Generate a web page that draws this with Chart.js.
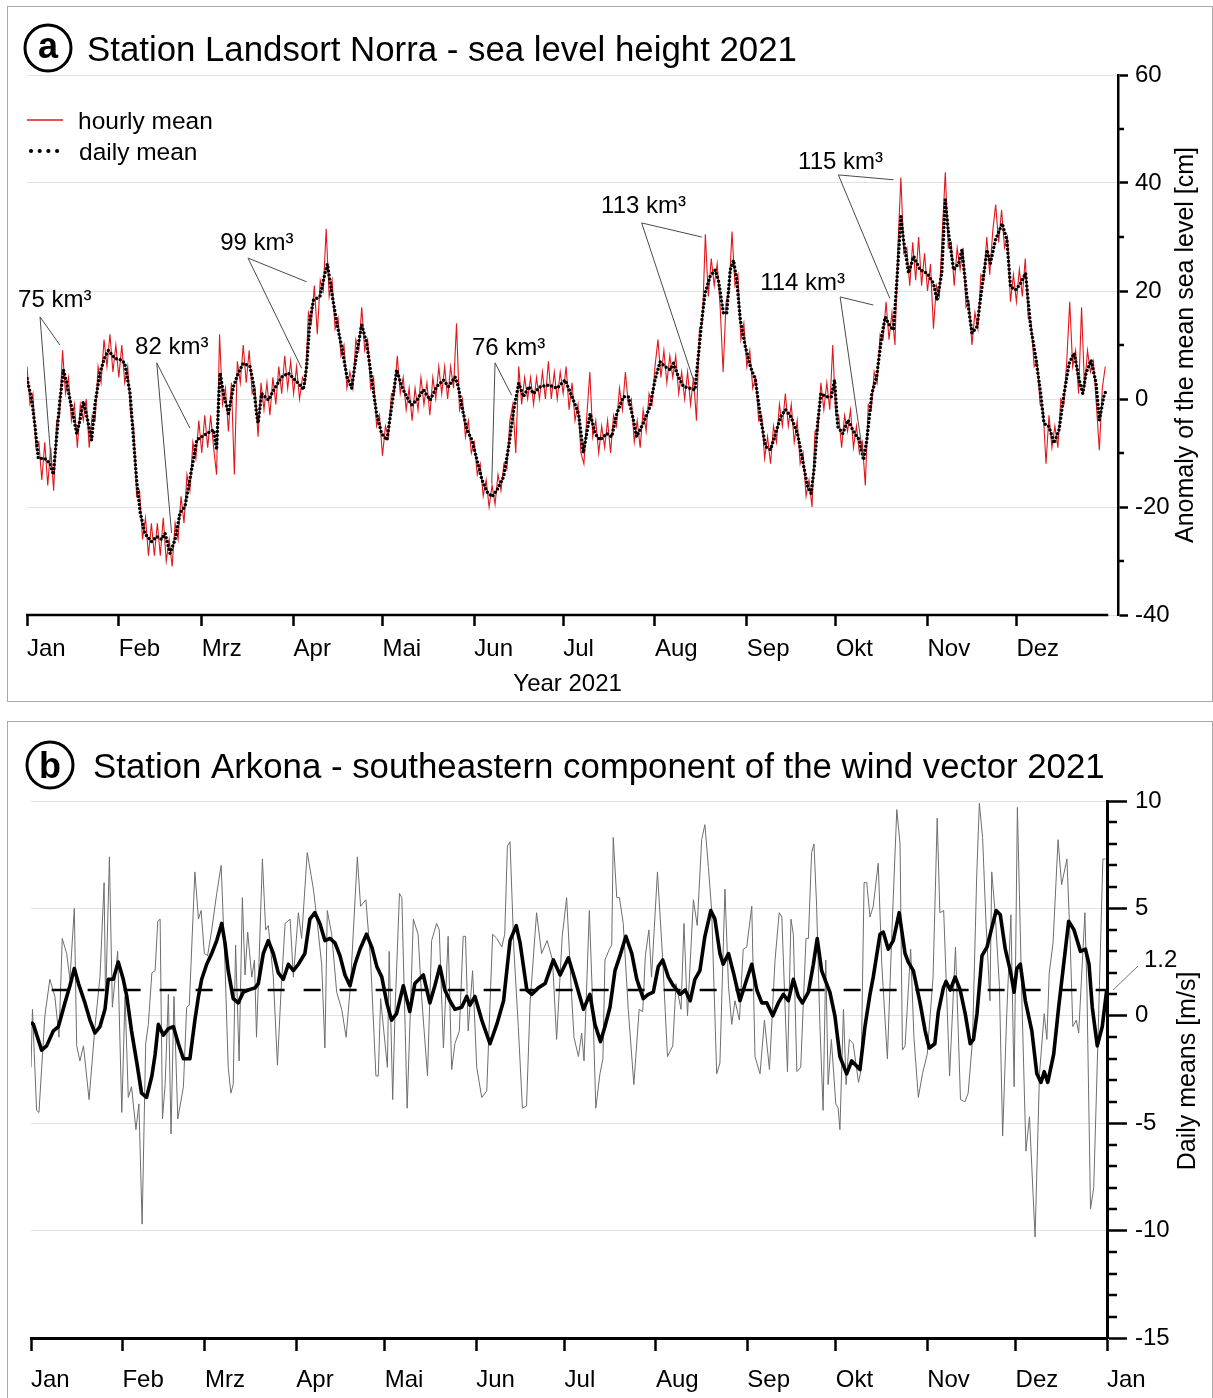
<!DOCTYPE html>
<html>
<head>
<meta charset="utf-8">
<script src="https://cdn.jsdelivr.net/npm/chart.js@4.4.1/dist/chart.umd.min.js"></script>
<style>
  html, body { margin: 0; padding: 0; background: #fff; }
  body { width: 1213px; height: 1398px; position: relative; overflow: hidden; }
  .frame { position: absolute; border: 1.5px solid #a9a9a9; box-sizing: border-box; }
  #frameA { left: 7px; top: 6px; width: 1206px; height: 696px; }
  #frameB { left: 7px; top: 721px; width: 1206px; height: 720px; }
  canvas { position: absolute; left: 0; }
  #seaLevel { top: 0; width: 1213px; height: 712px; }
  #wind { top: 712px; width: 1213px; height: 686px; }
</style>
</head>
<body>
<div class="frame" id="frameA"></div>
<div class="frame" id="frameB"></div>
<canvas id="seaLevel" width="1213" height="712"></canvas>
<canvas id="wind" width="1213" height="686"></canvas>
<script>
// ---------- shared ----------
const MONTHS = ['Jan', 'Feb', 'Mrz', 'Apr', 'Mai', 'Jun', 'Jul', 'Aug', 'Sep', 'Okt', 'Nov', 'Dez'];
const MONTH_START = [0, 31, 59, 90, 120, 151, 181, 212, 243, 273, 304, 334];
const YEAR_DAYS = 365;

// ---------- (a) Landsort Norra sea level, cm ----------
const meanDay = [0,1.6,2.7,3.8,6,7.8,8.9,10,11,12.3,
  13.4,15,16.8,17.9,19,20,21.8,23,24.6,26.3,
  27.5,29.7,32,33,34.8,35.9,37,38.2,39.8,42,
  43.8,45.5,46.6,48.3,50,51.7,53.3,55.6,57.3,59,
  60.7,63,64,64.8,65.2,66.3,68,69.7,71.3,73,
  75.3,76.4,77.5,78,79.2,81.5,83,86,88.2,90.5,
  92.7,93.3,94.4,95.5,96.7,98.9,100.6,101.4,102.9,104.6,
  106.2,108,109.6,111.3,113,114.7,116.4,118,119.7,121.5,
  123.1,124.8,126.5,128.2,129.9,131.6,133.8,136.1,138.3,140.6,
  142.3,144.5,145.6,146.8,148.5,150.2,151.9,153.6,155.3,157,
  158.6,160.9,162.6,164.3,166,167.6,169.4,171,173.3,176.1,
  178.9,181.7,184,186.2,187.8,190.1,191.8,193.4,195.7,197.4,
  199.1,201.3,203,204.7,205.8,208,210.3,212,213.7,215.4,
  217.1,218.2,219.9,221.6,223.8,225.5,226.6,227.8,228.9,230.6,
  232.3,233.4,235.1,236.2,237.4,238.5,239.6,240.8,242.5,244.2,
  245.9,247.6,249.3,251,252.7,254.4,256.1,257.9,260.1,261.8,
  263.5,264.7,265.8,266.9,268,269.8,271.5,272.6,273.7,275.4,
  277.1,279.4,281,282.4,283.5,285.2,286.8,288.5,289.7,291.4,
  292.5,293.6,295,295.9,297.6,299.3,301.5,303.8,306,307.2,
  308.8,310,311.1,312.8,314.5,315.6,317.3,319,320.7,322.4,
  324.1,325.2,326.9,329.2,330.8,332,333.7,335.4,337.1,338.8,
  340.5,342.2,343.3,345,346.7,348.4,350.1,351.8,353.5,355.2,
  356.4,357.5,359.2,360.9,362,363.7,364.8];
const meanCm = [3.8,-0.2,-5,-11,-11,-12,-14,-7,-0.8,5.4,
  2.9,-1.4,-6.4,-3.9,-0.5,-2.7,-7.6,-0.8,4.8,7.8,
  9,7.5,7.2,6.6,1,-7,-15,-21,-24.9,-26.4,
  -25.5,-26,-24.9,-28.6,-26,-21,-20,-13,-7.6,-7,
  -6.4,-5.7,-9.4,1,4.8,1,-2.7,2.3,4.8,6.6,
  6,2.9,-2.7,-4.5,1,-0.2,1.4,4.1,4.8,3.5,
  2.3,1.7,6,14.6,18.3,19,23.3,25,19.6,14,
  9.7,4.1,2,8.5,13.7,10.3,3.5,-2.7,-6.4,-7.6,
  -1.4,5.4,2.3,0.4,-1.1,-0.2,1.7,-0.2,2.3,3.5,
  2.3,4.1,2.3,-1.4,-5.7,-7.6,-11.3,-15,-17.2,-18.1,
  -16.9,-14.4,-8.8,-2,2.9,0.4,2.3,1,2.3,2.6,
  2,3.5,0.4,-2.7,-10,-2.7,-6.4,-7.6,-6.4,-7,
  -2.7,0.4,0.4,-3.9,-7,-4.5,-1.4,3.5,6.9,6,
  5.4,6.6,4.1,2.3,2,1.7,7.8,14.6,19.6,22.7,
  23.9,22,15.9,15.9,23.9,25.7,22,14.6,9.7,6,
  3.5,-3.3,-8.8,-9.4,-6.4,-3.3,-2,-3.3,-6.4,-11.3,
  -16.2,-17.5,-12.5,-4.5,1,0.4,0.4,3.5,-5.1,-6.4,
  -3.9,-6.4,-7.6,-11.3,-7.6,1,4.1,11.5,15.2,13.4,
  12.8,21.4,33.8,29.4,23.3,26.4,23.9,23.3,21.4,18.3,
  23.3,36.9,30.7,23.9,25.1,27.6,19,12.2,13.4,20.8,
  27.6,25.1,29.4,32.5,29.4,20.8,20.2,21.4,23.3,13.4,
  7.8,1,-4.5,-5.1,-8.2,-5.7,1,6.6,8.5,3.5,
  1,4.8,7.2,2.9,-3.9,1,1.7];
// hourly record, one reading per day of year (day 0 .. 364)
const hourlyCm = [6,-1,1,-9,-8,-15,-8,-16,-9,-17,
  -4,-3,9,1,4,-4,-1,-9,-1,-4,
  0,-9,-3,-4,6,3,11,6,12,5,
  10,4,10,3,6,-3,-5,-18,-17,-26,
  -22,-29,-23,-29,-23,-29,-22,-30,-26,-31,
  -23,-26,-18,-23,-14,-17,-8,-11,-4,-10,
  -3,-9,-3,-9,-14,12,-1,2,-6,3,
  -14,7,3,10,3,9,1,2,-7,3,
  -2,3,-3,4,-1,6,1,8,2,7,
  1,6,0,4,3,16,14,21,12,22,
  20,31.5,19,22,13,15,8,10,2,5,
  2,11,9,17,9,11,2,4,-5,-3,
  -10.5,-5,-7,1,1,8,1,4,-2,2,
  -4,2,-2,4,-1,3,-3,4,0,6,
  1,6,0,6,2,14,-2,0,-7,-4,
  -10,-8,-14,-12,-18,-15,-20,-16,-19.5,-14,
  -17,-12,-13,-4,-1,-10,6,-1,4,0,
  4,-1,4,0,5,0,7,0,5,0,
  5,1,6,-2,3,-4,-1,-10,-12,-3,
  5,-7,-4,-10,-5,-9,-4,-10,-3,-5,
  2,-2,5,-1,0,-8,-4,-9,-2,-6,
  1,-1,6,11,4,9,3,8,4,8,
  1,5,0,5,-1,4,-4,13,14,30.5,
  19,26,21,25,17,5,18,20,31,21,
  23,11,14,6,9,2,4,-4,-3,-11,
  -7,-12,-5,-8,-1,-5,1,-5,-1,-8,
  -4,-12,-10,-18,-15,-20,-6,-6,3,-2,
  3,-2,10,-3,-3,-9,-3,-6,-2,-9,
  -5,-10,-8,-16,-1,-2,5,3,12,11,
  18,11,16,10,28,41,27,28,21,29,
  22,30,21,27,20,25,13,21,19,31,
  42,28,29,21,28,24,28,17,18,10,
  16,13,23,22,30,23,31,36,29,35,
  28,30,18,23,18,24,19,26,15,14,
  6,7,-1,-2,-12,-3,-9,-5,-9,0,
  -1,7,18,6,9,1,17,2,9,5,
  7,-1,-9.5,2,6];
// inflow volumes of the events and the [day, cm] points their leaders mark
const volumeLabels = ['75 km³', '82 km³', '99 km³', '76 km³', '113 km³', '114 km³', '115 km³'];
const volumeMarks = [
  [[8.3, -12.8], [11.1, 10]],
  [[48.8, -24.8], [55, -5.4]],
  [[94.4, 21.7], [92.7, 5.7]],
  [[156.9, -15.6], [163.6, 0.7]],
  [[227.8, 30], [225, 3.5]],
  [[285.7, 17.4], [282.3, -10.7]],
  [[292.5, 40.6], [291.3, 18.6]]
];

// ---------- (b) Arkona wind, m/s ----------
const windDay = [0,0.5,1.9,2.7,4.7,6.4,8.1,9.5,10.6,12.1,
  13.2,14.7,15.5,16.6,17.8,19.7,21.7,23.4,24.8,25.3,
  26.6,27.6,29.4,30.8,31.9,33,34.1,35.6,36.6,37.7,
  38.9,39.8,41,42.1,43,43.8,44.6,45.5,46.6,47.5,
  48.5,49.8,51.7,52.8,53.7,55.6,56.8,57.7,58.8,59.9,
  61.3,63,64.5,65.8,66.9,67.8,68.6,69.4,70.6,71.7,
  72.6,73.5,74.9,75.8,76.5,78.5,79.6,80.5,82.2,83.6,
  84.8,86.2,87.9,89,90.7,91.8,93.7,95.8,96.9,98.6,
  99.7,100.5,102,103.7,105.4,106.9,108.4,110.7,111.8,113.6,
  115.2,117,117.8,118.6,120.1,120.9,121.5,122.7,123.5,125,
  125.8,127.6,129.7,131.3,132.5,134.5,135.9,137.6,138.5,139.9,
  141.5,142.7,143.8,145.3,146.6,147.4,148.3,149.8,151.2,152.9,
  154.6,156.6,158,159.7,160.7,161.6,162.5,163.8,165.3,166.7,
  168.1,169.3,171.5,173.2,175.1,176.9,178.3,180.2,181.7,183.4,
  184.2,185.7,186.8,187.6,189.4,190.8,191.6,193,194,194.7,
  196.2,197,197.5,198.7,199.6,200.9,202.6,204.5,206.3,207.5,
  208.4,209.6,210.5,212.5,214.3,215.9,217.7,218.8,220.5,221.5,
  222.7,224.7,226,227.5,228.6,229.8,230.9,232.6,233.7,235.4,
  236.6,237.7,238.8,240.3,241.6,242.8,244.5,245.6,247.3,248.8,
  250.5,252.4,253.8,254.7,256.6,257.8,258.6,259.8,261.1,262.9,
  263.7,264.8,265.6,266.5,267.6,268.7,269.6,270.4,271.5,273,
  273.8,274.4,275.6,276.5,277.6,278.9,280.7,281.6,282.6,283.5,
  284.6,285.7,287.4,288.6,290.5,292,293.7,294.8,295.6,296.5,
  298.4,299.5,301,302.4,304,306,307.4,308.3,309.6,311.6,
  313.6,315.3,316.8,317.9,319.4,320.8,321.7,322.8,323.9,325.3,
  325.9,327,328.5,329.6,331,332.4,333.5,334.6,336.1,337.5,
  338.7,340.6,342.1,343.7,344.6,345.4,346.7,348.4,349.6,351.4,
  352.5,353.4,354.6,355.4,357.5,358.2,359.4,360.5,362,363.6,
  364.5];
const windDaily = [-2.4,0.3,-4.4,-4.5,0,1.7,0.9,-1,3.6,2.9,
  1.7,5,-1.4,-2.1,-1.4,-3.9,-0.5,1.8,6.2,0.6,
  7.4,0.4,3,-4.5,0.9,-3.8,-3.3,-5.3,-4.1,-9.7,
  -1.3,-0.4,2,2.1,4.4,4.5,-4.8,-3.2,1,-5.5,
  0.9,-4.8,-3.3,0.4,0.5,6.7,4.5,4.9,2.9,2.8,
  4,5.7,7,2.4,-2.4,-3.6,-3.2,3.3,-2.1,5.5,
  1.9,3.9,1.8,2.6,-1,7.3,4,4.2,1.8,-2.3,
  1.1,4.3,4.5,1.8,4.8,3.6,7.6,5.9,4.6,2.4,
  -1.5,4.9,3.8,1.1,0.3,-1,1.5,7.4,5.1,5.4,
  2.6,-2.8,-2.8,0.8,-1.3,-2.4,3,-3.9,0.3,5.7,
  5.5,-4.3,4.5,3.8,0.9,-2.8,3.5,4.3,4,-1.5,
  3.7,-2.5,-1.3,-0.7,3.7,3.7,-0.7,2.1,-2.4,-3.8,
  -3.5,3.8,3.6,3.2,3.8,7.9,8.1,3.1,-0.5,-4.3,
  -4.2,0.6,4.8,2.9,3.5,2.6,-1.1,3.7,5.5,0.9,
  -1,-1.9,-0.8,-2.1,4.9,-0.5,-4.3,-2.7,-2,2.6,
  3.1,3.3,8.3,5.5,5.5,4.3,0.3,-3.2,0.3,0.2,
  2.8,4,1.8,6.7,2.6,-1.9,-1.4,1.5,0.3,4.3,
  0,5.4,4.2,8.2,8.9,6.9,4.9,-2.7,-2.2,5.9,
  1.4,-0.4,0.7,-0.2,3.1,3.2,5.1,-1.9,-2.7,-0.2,
  -2.5,2.6,4.8,4.6,-2.6,4.5,3.8,-2.6,-2.4,3.6,
  3.6,7.6,8,5.1,-0.4,-4.4,2.6,-3.2,-1.1,-4.1,
  -4.3,-5.3,0.3,-3.2,-1.1,-1.3,-3.1,-2.5,6.2,6.2,
  4.6,5.1,7.1,2.4,-2,3.8,9.6,8,-1.6,-1.4,
  3.1,-1,-3.8,-2.7,-1.8,1.8,9.2,4.8,4.9,-2.8,
  3.2,-3.9,-4,-3.6,-1.1,6.5,9.9,8.3,4.5,0.7,
  6.7,4.9,1.4,-5.6,0.1,4.7,-3.3,9.7,0.9,-6.3,
  -4.7,-10.3,-2.7,0.1,-1.1,2,3.4,8.2,6.1,7.3,
  3.5,-0.5,-0.2,-0.8,4.8,1.2,-9,-8,-0.8,7.3,
  7.3];
const smoothDay = [0,0.8,3.6,5.3,7.6,9.3,11.5,13.2,14.7,16.1,
  18.3,20,21.7,23.4,25.1,26.2,27.9,29.6,31.3,32.5,
  34.1,35.8,37.5,39.2,41,42.1,43.2,44.9,46.6,48.3,
  50,51.7,53.9,55.6,56.8,57.9,59.6,61.3,63,64.7,
  65.8,66.9,68.6,70.3,72,73.7,76,77.1,78.8,80.5,
  82.2,83.9,85.6,87.3,89,90.7,92.9,94.6,96.3,98,
  99.7,101.4,103.1,104.8,106.5,108.2,109.9,111.6,113.8,115.6,
  117.3,119,120.7,122.3,124,126.3,128.5,130.2,133.1,135.3,
  137,138.7,140.4,142.1,143.8,146.1,147.8,148.9,150.6,152.9,
  155.7,158,160.3,162.5,164.6,165.9,168.2,169.9,172.1,174.4,
  177.2,179.5,182.3,184.5,187.4,189.6,191.3,193.2,194.7,196.4,
  198.1,199.8,201.8,203.8,205.5,207.7,209.4,211.1,212.8,214.3,
  216.2,217.9,220.2,221.9,223.6,225.2,226.9,228.6,230.6,232,
  233.7,234.8,236.6,238.3,240.5,242.8,244.5,246.2,247.9,249.6,
  251.6,253.5,255.2,256.9,258.6,260.3,261.7,263.7,265.4,266.7,
  268.2,269.3,271,272.7,274.4,276.7,278.4,281.2,282.9,284.6,
  285.7,288,289.1,290.8,292.5,294.5,296.5,297.6,299.3,301.6,
  303.3,304.7,306.6,307.8,309.5,310.4,311.8,313.5,315.2,316.9,
  318.6,319.7,320.9,322.6,324.3,325.2,327.4,328.8,330.5,332.2,
  333.5,334.4,335.6,337.3,339.5,341.2,342.6,343.7,344.9,346.9,
  348.6,350.3,352,353.8,356,357.7,358.9,360,361.7,363.4,
  364.9];
const windSmooth = [-0.3,-0.4,-1.6,-1.4,-0.7,-0.5,0.6,1.4,2.2,1.5,
  0.6,-0.2,-0.8,-0.5,0.3,1.7,1.7,2.5,1.7,0.9,
  -0.7,-2.1,-3.6,-3.8,-2.8,-1.8,-0.4,-0.9,-0.6,-0.5,
  -1.3,-2,-2,-0.2,0.9,1.7,2.4,2.9,3.5,4.3,
  3.4,2.1,0.8,0.6,1.1,1.2,1.3,1.5,2.9,3.5,
  2.9,2,1.7,2.4,2.1,2.4,2.9,4.5,4.8,4.3,
  3.5,3.6,3.4,2.8,1.9,1.4,2.4,3.1,3.8,3.2,
  2.3,1.8,0.6,-0.2,0.1,1.4,0.2,1.5,1.9,0.6,
  1.4,2.3,1.2,0.7,0.3,0.4,0.9,0.5,0.9,-0.2,
  -1.3,-0.4,0.7,3.5,4.2,3.4,1.2,1,1.3,1.5,
  2.6,1.9,2.7,1.7,0.3,1,-0.4,-1.2,-0.5,0.4,
  2.1,2.8,3.7,2.9,1.7,0.8,1,1.1,2.3,2.6,
  1.8,1.4,1,1.2,0.7,1.7,2.1,3.7,4.9,4.5,
  2.9,2.4,2.9,2,0.7,1.7,2.4,1.2,0.6,0.6,
  0,0.6,1,0.7,1.7,0.9,0.6,1.1,2.4,3.6,
  2.1,1.7,1.1,0,-1.9,-2.7,-2.1,-2.5,-0.5,1,
  1.8,3.8,3.9,3.1,3.5,4.8,2.9,2.5,2.1,0.6,
  -0.7,-1.5,-1.3,0.2,1.3,1.6,1.2,1.8,1.2,0.1,
  -1.3,-1.1,0.1,2.8,3.2,3.7,4.9,4.7,3.1,2.1,
  1.1,2.2,2.4,0.7,-0.7,-2.7,-3.1,-2.6,-3.1,-1.8,
  0.4,2.4,4.4,4,3,3.1,2.4,0.4,-1.4,-0.5,
  1.2];
const WIND_MEAN = 1.2;   // annual mean of the daily values
const WIND_MEAN_FROM = 7;

// ---------- drawing helpers ----------
const FONT = "'Liberation Sans', Arial, Helvetica, sans-serif";
Chart.defaults.font.family = FONT;
Chart.defaults.color = '#000';

const zip = (xs, ys) => xs.map((x, i) => ({ x, y: ys[i] }));

function heading(ctx, letter, text, cx, cy, textX) {
  ctx.save();
  ctx.strokeStyle = '#000';
  ctx.lineWidth = 3;
  ctx.beginPath();
  ctx.arc(cx, cy, 23, 0, Math.PI * 2);
  ctx.stroke();
  ctx.fillStyle = '#000';
  ctx.font = 'bold 36px ' + FONT;
  ctx.textAlign = 'center';
  ctx.textBaseline = 'alphabetic';
  ctx.fillText(letter, cx, cy + (letter === 'b' ? 13 : 9.5));
  ctx.font = '34.8px ' + FONT;
  ctx.textAlign = 'left';
  ctx.fillText(text, textX, cy + 12.5);
  ctx.restore();
}

function verticalTitle(ctx, text, cx, cy) {
  ctx.save();
  ctx.translate(cx, cy);
  ctx.rotate(-Math.PI / 2);
  ctx.fillStyle = '#000';
  ctx.font = '25px ' + FONT;
  ctx.textAlign = 'center';
  ctx.textBaseline = 'middle';
  ctx.fillText(text, 0, 0);
  ctx.restore();
}

function minorTicks(ctx, scale, from, to, step, every, len, width) {
  ctx.save();
  ctx.strokeStyle = '#000';
  ctx.lineWidth = width;
  ctx.beginPath();
  for (let v = from; v <= to + 1e-9; v += step) {
    if (Math.abs(v / every - Math.round(v / every)) < 1e-6) continue;
    const y = Math.round(scale.getPixelForValue(v));
    ctx.moveTo(scale.left, y);
    ctx.lineTo(scale.left + len, y);
  }
  ctx.stroke();
  ctx.restore();
}

function monthAxis(extra) {
  return Object.assign({
    type: 'linear',
    min: 0,
    afterBuildTicks: (s) => { s.ticks = extra.tickDays.map(v => ({ value: v })); },
    ticks: {
      autoSkip: false, maxRotation: 0, minRotation: 0, align: 'start',
      padding: extra.padding,
      font: { size: 24 },
      callback: (v, i) => extra.tickNames[i]
    },
    grid: { drawOnChartArea: false, drawTicks: true, tickLength: extra.tickLength, tickColor: '#000', tickWidth: 2.5 },
    border: extra.border,
    afterFit: (s) => { s.height = extra.height; }
  }, extra.range);
}

// ---------- chart (a) ----------
const seaDecor = {
  id: 'seaDecor',
  afterDraw(chart) {
    const { ctx, scales: { x, y }, chartArea } = chart;
    heading(ctx, 'a', 'Station Landsort Norra - sea level height 2021', 48, 48, 87);

    // x axis line over the year
    ctx.save();
    ctx.strokeStyle = '#000';
    ctx.lineWidth = 2.5;
    ctx.beginPath();
    ctx.moveTo(x.getPixelForValue(0) - 1, chartArea.bottom);
    ctx.lineTo(x.getPixelForValue(YEAR_DAYS), chartArea.bottom);
    ctx.stroke();
    ctx.restore();

    minorTicks(ctx, y, -40, 60, 10, 20, 6, 2.5);

    // x title
    ctx.save();
    ctx.fillStyle = '#000';
    ctx.font = '24px ' + FONT;
    ctx.textAlign = 'center';
    ctx.textBaseline = 'alphabetic';
    ctx.fillText('Year 2021', (x.getPixelForValue(0) + x.getPixelForValue(YEAR_DAYS)) / 2, 691);
    ctx.restore();

    verticalTitle(ctx, 'Anomaly of the mean sea level [cm]', 1186, 345);

    // legend
    const ds = chart.data.datasets;
    ctx.save();
    ctx.font = '24.5px ' + FONT;
    ctx.fillStyle = '#000';
    ctx.textAlign = 'left';
    ctx.textBaseline = 'alphabetic';
    ctx.strokeStyle = ds[1].borderColor;
    ctx.lineWidth = 1.5;
    ctx.beginPath(); ctx.moveTo(27, 120); ctx.lineTo(63, 120); ctx.stroke();
    ctx.fillText(ds[1].label, 78, 129);
    ctx.fillStyle = ds[0].borderColor;
    for (let i = 0; i < 4; i++) {
      ctx.beginPath(); ctx.arc(31 + i * 8.7, 151, 2.1, 0, Math.PI * 2); ctx.fill();
    }
    ctx.fillStyle = '#000';
    ctx.fillText(ds[0].label, 79, 160);
    ctx.restore();

    // event volumes with leader lines
    const opts = chart.options.plugins.seaDecor;
    ctx.save();
    ctx.font = '24px ' + FONT;
    ctx.fillStyle = '#000';
    ctx.textAlign = 'left';
    ctx.textBaseline = 'middle';
    ctx.strokeStyle = '#4a4a4a';
    ctx.lineWidth = 1;
    volumeLabels.forEach((label, i) => {
      const lay = opts.layout[i];
      ctx.fillText(label, x.getPixelForValue(lay.text[0]), y.getPixelForValue(lay.text[1]));
      const ox = x.getPixelForValue(lay.leader[0]);
      const oy = y.getPixelForValue(lay.leader[1]);
      ctx.beginPath();
      volumeMarks[i].forEach(([d, v]) => {
        ctx.moveTo(ox, oy);
        ctx.lineTo(x.getPixelForValue(d), y.getPixelForValue(v));
      });
      ctx.stroke();
    });
    ctx.restore();
  }
};

new Chart(document.getElementById('seaLevel'), {
  type: 'line',
  data: {
    datasets: [
      {
        label: 'daily mean',
        data: zip(meanDay, meanCm),
        borderColor: '#000',
        borderWidth: 3.5,
        borderDash: [0, 4],
        borderCapStyle: 'round',
        pointRadius: 0,
        tension: 0,
        order: 0
      },
      {
        label: 'hourly mean',
        data: hourlyCm.map((v, i) => ({ x: i, y: v })),
        borderColor: '#e3161b',
        borderWidth: 1.1,
        pointRadius: 0,
        tension: 0,
        order: 1
      }
    ]
  },
  options: {
    responsive: false,
    animation: false,
    devicePixelRatio: 1,
    parsing: false,
    layout: { padding: { left: 27, top: 75, right: 0, bottom: 0 } },
    plugins: {
      legend: { display: false },
      tooltip: { enabled: false },
      seaDecor: {
        layout: [
          { text: [-3.0, 18.3], leader: [4.4, 15.2] },
          { text: [36.5, 9.6], leader: [43.8, 6.7] },
          { text: [65.2, 28.9], leader: [74.6, 26.1] },
          { text: [150.2, 9.4], leader: [158, 6.7] },
          { text: [193.8, 35.7], leader: [207.5, 32.6] },
          { text: [247.5, 21.5], leader: [274.5, 18.9] },
          { text: [260.3, 43.9], leader: [273.9, 41.5] }
        ]
      }
    },
    scales: {
      x: monthAxis({
        tickDays: MONTH_START, tickNames: MONTHS, padding: 9, tickLength: 11, height: 97,
        border: { display: false },
        range: { max: 368.3 }
      }),
      y: {
        position: 'right',
        min: -40, max: 60,
        ticks: { stepSize: 20, padding: 7, font: { size: 24 } },
        grid: { color: '#e2e2e2', lineWidth: 1, drawTicks: true, tickLength: 10, tickColor: '#000', tickWidth: 2.5 },
        border: { display: true, color: '#000', width: 2.5 },
        afterFit: (s) => { s.width = 95; }
      }
    }
  },
  plugins: [seaDecor]
});

// ---------- chart (b) ----------
const windDecor = {
  id: 'windDecor',
  afterDraw(chart) {
    const { ctx, scales: { y }, chartArea } = chart;
    heading(ctx, 'b', 'Station Arkona - southeastern component of the wind vector 2021', 50, 53, 93);
    minorTicks(ctx, y, -15, 10, 1, 5, 10, 2.5);
    verticalTitle(ctx, 'Daily means [m/s]', 1188, 359);

    // annual mean label with leader
    const ym = y.getPixelForValue(WIND_MEAN);
    ctx.save();
    ctx.strokeStyle = '#777';
    ctx.lineWidth = 1;
    ctx.beginPath();
    ctx.moveTo(chartArea.right + 6, ym);
    ctx.lineTo(chartArea.right + 31, ym - 24);
    ctx.stroke();
    ctx.fillStyle = '#000';
    ctx.font = '24px ' + FONT;
    ctx.textAlign = 'left';
    ctx.textBaseline = 'alphabetic';
    ctx.fillText(String(WIND_MEAN), chartArea.right + 37, ym - 23);
    ctx.restore();
  }
};

new Chart(document.getElementById('wind'), {
  type: 'line',
  data: {
    datasets: [
      {
        label: 'running mean',
        data: zip(smoothDay, windSmooth),
        borderColor: '#000',
        borderWidth: 3.6,
        borderJoinStyle: 'round',
        pointRadius: 0,
        tension: 0,
        order: 0
      },
      {
        label: 'annual mean',
        data: [{ x: WIND_MEAN_FROM, y: WIND_MEAN }, { x: YEAR_DAYS, y: WIND_MEAN }],
        borderColor: '#000',
        borderWidth: 2.6,
        borderDash: [17, 19],
        pointRadius: 0,
        order: 1
      },
      {
        label: 'daily mean',
        data: zip(windDay, windDaily),
        borderColor: '#6e6e6e',
        borderWidth: 1,
        pointRadius: 0,
        tension: 0,
        order: 2
      }
    ]
  },
  options: {
    responsive: false,
    animation: false,
    devicePixelRatio: 1,
    parsing: false,
    layout: { padding: { left: 31, top: 89, right: 0, bottom: 0 } },
    plugins: { legend: { display: false }, tooltip: { enabled: false } },
    scales: {
      x: monthAxis({
        tickDays: MONTH_START.concat([YEAR_DAYS]), tickNames: MONTHS.concat(['Jan']),
        padding: 15, tickLength: 13, height: 60,
        border: { display: true, color: '#000', width: 3 },
        range: { max: YEAR_DAYS }
      }),
      y: {
        position: 'right',
        min: -15, max: 10,
        ticks: { stepSize: 5, padding: 8, font: { size: 24 } },
        grid: { color: '#e2e2e2', lineWidth: 1, drawTicks: true, tickLength: 20, tickColor: '#000', tickWidth: 2.5 },
        border: { display: true, color: '#000', width: 3 },
        afterFit: (s) => { s.width = 106; }
      }
    }
  },
  plugins: [windDecor]
});
</script>
</body>
</html>
